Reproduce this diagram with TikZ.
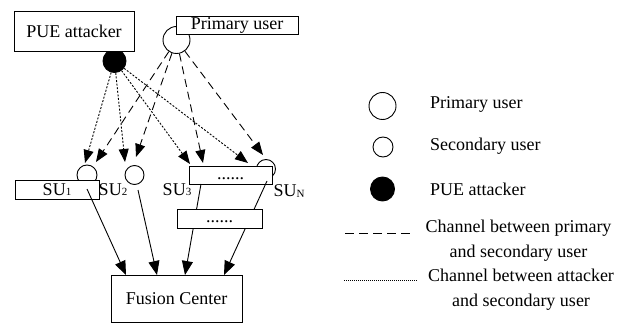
\documentclass[tikz,border=0pt]{standalone}
\usepackage{fontspec}
\setmainfont{Liberation Serif}
\usetikzlibrary{arrows.meta}
\newcommand\dgfont{\fontsize{18}{25}\selectfont}
\newcommand\lgfont{\fontsize{18}{25}\selectfont}
\newcommand\dgsub[1]{\raisebox{-0.5pt}{\fontsize{11}{11}\selectfont #1}}
\begin{document}
\begin{tikzpicture}[x=1pt,y=-1pt,
  box/.style={draw,fill=white,line width=0.9pt,inner sep=0pt,font=\dgfont},
  dotsbox/.style={box,text height=12pt,text depth=4pt},
  ring/.style={circle,draw,fill=white,line width=0.9pt,inner sep=0pt,minimum size=#1},
  blob/.style={circle,draw,fill=black,line width=0.9pt,inner sep=0pt,minimum size=#1},
  lbl/.style={inner sep=0pt,font=\dgfont},
  lgtext/.style={inner sep=0pt,font=\lgfont,anchor=west},
  dotarr/.style={dash pattern=on 2pt off 1.6pt,line width=0.9pt,-{Triangle[length=13pt,width=10pt]}},
  dasharr/.style={dash pattern=on 8pt off 5pt,line width=0.9pt,-{Triangle[length=13pt,width=10pt]}},
  solarr/.style={line width=0.9pt,-{Triangle[length=14pt,width=11pt]}}
]
\useasboundingbox (0,0) rectangle (626,323);
% circles
\node[ring=27pt] (pu) at (176.5,40) {};
\node[blob=23pt] (pue) at (114.5,61) {};
\node[ring=20pt] (su1c) at (87,175) {};
\node[ring=19pt] (su2c) at (134.5,175) {};
\node[ring=19pt] (sunc) at (266,169) {};
% boxes
\node[box,minimum width=120pt,minimum height=40pt] (pueb) at (74,31) {PUE attacker};
\node[box,minimum width=122pt,minimum height=18pt] (pub) at (237,25) {Primary user};
\node[box,minimum width=84pt,minimum height=19pt] (su1b) at (57,189.5) {SU\dgsub{1}};
\node[dotsbox,minimum width=83pt,minimum height=18pt] (dotsA) at (230.5,175) {......};
% arrow targets
\coordinate (d1) at (85,163);
\coordinate (d2) at (125,162);
\coordinate (d3) at (190,164);
\coordinate (d4) at (248,163);
\coordinate (a1) at (96,162);
\coordinate (a2) at (136,157);
\coordinate (a3) at (203,163);
\coordinate (a4) at (263,155);
\draw[dotarr] (pue) -- (d1);
\draw[dotarr] (pue) -- (d2);
\draw[dotarr] (pue) -- (d3);
\draw[dotarr] (pue) -- (d4);
\draw[dasharr] (pu) -- (a1);
\draw[dasharr] (pu) -- (a2);
\draw[dasharr] (pu) -- (a3);
\draw[dasharr] (pu) -- (a4);
% solid links to fusion center
\coordinate (s1) at (87,189);
\coordinate (s2) at (138,190);
\coordinate (s3) at (201,184);
\coordinate (s4) at (267,181);
\coordinate (f1) at (126,275);
\coordinate (f2) at (157,275);
\coordinate (f3) at (185,275);
\coordinate (f4) at (224,275);
\draw[solarr] (s1) -- (f1);
\draw[solarr] (s2) -- (f2);
\draw[solarr] (s3) -- (f3);
\draw[solarr] (s4) -- (f4);
\node[dotsbox,minimum width=85pt,minimum height=19pt] (dotsB) at (219.5,218.5) {......};
\node[box,minimum width=131pt,minimum height=47pt] (fc) at (176.5,298.5) {Fusion Center};
% labels
\node[lbl] (su2l) at (113,189.5) {SU\dgsub{2}};
\node[lbl] (su3l) at (177,189.5) {SU\dgsub{3}};
\node[lbl] (sunl) at (289,191) {SU\dgsub{N}};
% legend
\node[ring=27pt] (lpu) at (382.5,106) {};
\node[ring=20pt] (lsu) at (383,147) {};
\node[blob=24pt] (lpue) at (382.5,189) {};
\node[lgtext] (tpu) at (430,104) {Primary user};
\node[lgtext] (tsu) at (430,146) {Secondary user};
\node[lgtext] (tpue) at (430,189.5) {PUE attacker};
\coordinate (ldA) at (345,233);
\coordinate (ldB) at (413,233);
\draw[line width=0.9pt,dash pattern=on 9pt off 5pt] (ldA) -- (ldB);
\coordinate (loA) at (344,280);
\coordinate (loB) at (417,280);
\draw[line width=0.8pt,dash pattern=on 1pt off 1pt] (loA) -- (loB);
\node[inner sep=0pt,font=\lgfont,align=center] (tch1) at (518.5,241) {Channel between primary\\and secondary user};
\node[inner sep=0pt,font=\lgfont,align=center] (tch2) at (521,290) {Channel between attacker\\and secondary user};
\end{tikzpicture}
\end{document}
